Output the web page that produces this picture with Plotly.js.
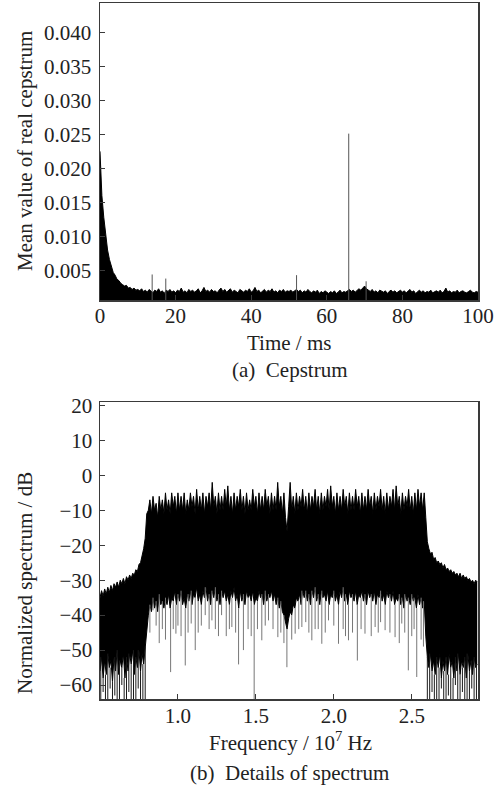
<!DOCTYPE html>
<html>
<head>
<meta charset="utf-8">
<script src="https://cdn.plot.ly/plotly-3.0.1.min.js"></script>
<style>html,body{margin:0;padding:0;background:#fff;}#chart{width:499px;height:790px;}</style>
</head>
<body>
<div id="chart"></div>
<script>
// ---------- (a) Cepstrum: sampled every 0.5 ms, upper envelope of the dense trace ----------
const cepStep = 0.5; // ms between samples
const cepV = [
  0.0225,0.0160,0.0128,0.0100,0.0080,0.0066,0.0056,0.0047,0.0043,0.0037,0.0035,0.0031,0.0029,0.0027,0.0028,0.0024,0.0025,0.0022,0.0024,0.0021,0.0022,
  0.0020,0.0023,0.0019,0.0021,0.0018,0.0022,0.0020,0.0017,0.0021,0.0019,0.0023,0.0018,0.0020,0.0016,0.0021,0.0019,0.0022,0.0018,0.0020,0.0017,
  0.0021,0.0019,0.0024,0.0018,0.0020,0.0017,0.0022,0.0019,0.0021,0.0018,0.0020,0.0023,0.0017,0.0020,0.0025,0.0019,0.0021,0.0018,0.0022,0.0019,
  0.0020,0.0017,0.0021,0.0024,0.0019,0.0022,0.0018,0.0020,0.0023,0.0018,0.0021,0.0019,0.0017,0.0022,0.0020,0.0018,0.0021,0.0019,0.0023,0.0018,
  0.0020,0.0025,0.0019,0.0021,0.0017,0.0020,0.0022,0.0018,0.0021,0.0019,0.0023,0.0018,0.0020,0.0017,0.0021,0.0019,0.0022,0.0018,0.0020,0.0019,
  0.0021,0.0018,0.0020,0.0022,0.0019,0.0021,0.0017,0.0020,0.0018,0.0022,0.0019,0.0017,0.0020,0.0018,0.0021,0.0016,0.0019,0.0017,0.0020,0.0018,
  0.0016,0.0019,0.0017,0.0020,0.0016,0.0018,0.0021,0.0017,0.0019,0.0018,0.0020,0.0022,0.0019,0.0021,0.0018,0.0020,0.0023,0.0021,0.0024,0.0027,
  0.0023,0.0021,0.0019,0.0022,0.0018,0.0020,0.0017,0.0021,0.0019,0.0018,0.0020,0.0016,0.0019,0.0021,0.0018,0.0020,0.0017,0.0019,0.0021,0.0018,
  0.0020,0.0017,0.0019,0.0022,0.0018,0.0020,0.0016,0.0019,0.0021,0.0018,0.0020,0.0017,0.0019,0.0018,0.0021,0.0017,0.0019,0.0020,0.0018,0.0021,
  0.0017,0.0019,0.0024,0.0018,0.0020,0.0017,0.0019,0.0018,0.0021,0.0017,0.0019,0.0020,0.0018,0.0017,0.0019,0.0021,0.0018,0.0017,0.0019,0.0018
];
// isolated cepstral peaks (ms, value)
const peakT = [13.8, 17.4, 52.0, 65.8, 70.4];
const peakV = [0.0044, 0.0038, 0.0043, 0.0251, 0.0034];

// ---------- (b) Spectrum details: 0.01 x 10^7 Hz grid starting at 0.50 ----------
const specStart = 0.50, specStep = 0.01;
const specUpper = [
  // 0.50 - 0.79
  -35,-33,-34.5,-32.5,-34,-32,-33.5,-31.5,-33,-31,-32,-30.5,-32,-30,-31,-29.5,-31,-29,-30,-28.5,
  -29.5,-28,-28.5,-27,-27.5,-25.5,-25,-23,-21,-18,
  // 0.80
  -11,
  // 0.81 - 2.58
  -10,-7,-11,-6,-10,-8,-12,-6,-10,-7,
  -11,-5,-10,-7,-11,-5,-9,-6,-11,-5,
  -10,-6,-10,-5,-11,-7,-10,-5,-9,-6,
  -11,-4,-10,-6,-10,-5,-11,-6,-9,-5,
  -10,-2,-9,-6,-11,-5,-10,-6,-10,-4,
  -9,-3,-10,-6,-11,-5,-10,-6,-9,-4,
  -10,-6,-11,-5,-10,-7,-10,-4,-9,-6,
  -11,-5,-10,-6,-10,-4,-9,-6,-11,-5,
  -10,-6,-10,-2,-9,-6,-11,-5,-12,-16,
  -9,-2,-10,-6,-11,-5,-10,-6,-9,-4,
  -10,-6,-11,-5,-10,-6,-9,-4,-10,-6,
  -11,-5,-10,-6,-9,-4,-10,-3,-9,-6,
  -11,-5,-10,-6,-10,-4,-9,-6,-11,-5,
  -10,-6,-10,-4,-9,-6,-11,-5,-10,-6,
  -10,-4,-9,-6,-11,-5,-10,-6,-9,-4,
  -10,-6,-11,-5,-10,-6,-9,-4,-10,-3,
  -9,-6,-11,-5,-10,-6,-9,-4,-10,-6,
  -11,-5,-10,-4,-9,-5,-10,-5,
  // 2.59 - 2.92
  -12,-19,-21,-22.5,-22,-24,-23.5,-25,-24.5,-25.5,-25,-26.5,-25.5,-27,-26.5,-27.5,-27,-28,-27.5,-28.5,
  -28,-29,-28,-29.5,-28.5,-29.5,-29,-30,-29.5,-30.5,-30,-31,-30,-30.5
];
const specLower = [
  // 0.50 - 0.79
  -56,-52,-58,-53,-57,-51,-55,-53,-59,-52,-56,-50,-57,-53,-55,-51,-58,-52,-56,-51,
  -54,-50,-57,-52,-55,-50,-56,-51,-54,-49,
  // 0.80
  -44,
  // 0.81 - 2.58
  -40,-37,-39,-35,-38,-36,-39,-34,-37,-36,
  -38,-35,-37,-34,-38,-35,-36,-33,-37,-34,
  -36,-33,-37,-35,-38,-34,-36,-33,-37,-34,
  -35,-32,-36,-34,-37,-33,-35,-32,-36,-34,
  -37,-33,-35,-32,-36,-34,-37,-33,-35,-33,
  -36,-34,-37,-33,-35,-32,-36,-34,-38,-33,
  -36,-34,-37,-33,-35,-34,-36,-33,-37,-35,
  -36,-33,-35,-34,-37,-33,-36,-34,-35,-33,
  -36,-34,-37,-35,-38,-36,-39,-40,-42,-44,
  -41,-39,-40,-37,-38,-35,-36,-34,-37,-33,
  -35,-33,-36,-34,-37,-33,-35,-32,-36,-34,
  -37,-33,-35,-34,-36,-33,-37,-34,-35,-33,
  -36,-34,-37,-33,-35,-32,-36,-34,-37,-33,
  -35,-34,-36,-33,-37,-34,-35,-33,-36,-34,
  -37,-33,-35,-34,-36,-33,-37,-34,-35,-33,
  -36,-34,-37,-33,-35,-34,-36,-33,-37,-35,
  -36,-34,-37,-35,-38,-34,-36,-35,-37,-34,
  -36,-35,-38,-34,-37,-35,-38,-36,
  // 2.59 - 2.92
  -46,-52,-55,-51,-56,-53,-57,-52,-55,-51,-58,-53,-56,-52,-57,-51,-55,-53,-58,-52,
  -56,-51,-57,-53,-55,-52,-58,-51,-56,-53,-57,-52,-55,-54
];
// deep notches inside the band (grey)
const dipF  = [0.82,0.84,0.86,0.88,0.90,0.92,0.953,0.97,0.987,1.00,1.02,1.047,1.065,1.085,1.111,1.13,1.15,1.175,1.20,1.218,1.24,1.26,1.28,1.31,1.33,1.346,1.37,1.389,1.42,1.45,1.47,1.489,1.51,1.538,1.56,1.581,1.61,1.641,1.66,1.68,1.699,1.73,1.752,1.775,1.795,1.82,1.84,1.859,1.88,1.90,1.923,1.945,1.966,2.00,2.03,2.06,2.075,2.094,2.12,2.151,2.175,2.20,2.24,2.265,2.285,2.30,2.329,2.36,2.393,2.42,2.436,2.455,2.478,2.50,2.515,2.532,2.56,2.575];
const dipDb = [-45,-38.6,-43,-48,-44,-47,-56.3,-44,-45.3,-43,-46,-54.4,-45,-42.4,-50,-45,-43,-40,-44,-41.5,-44,-46,-40,-46,-44,-43.4,-45,-54.1,-50,-44,-46,-64.5,-44,-47.2,-43,-41.5,-44,-46.3,-45,-48,-54.9,-47,-45.3,-44,-43.4,-42,-45,-47.2,-44,-44,-48.2,-45,-41.5,-43,-48.2,-44,-46,-47.2,-45,-53,-44,-45.3,-46,-43.4,-45,-42,-44.3,-45,-46.3,-48,-42.4,-45,-55.8,-46,-44,-57.7,-47,-49];
// notches outside the band (dark, reaching the bottom)
const edgeF  = [0.505,0.52,0.535,0.55,0.565,0.58,0.595,0.61,0.625,0.64,0.655,0.67,0.685,0.70,0.715,0.73,0.745,0.76,0.775,0.79,
                2.60,2.615,2.63,2.645,2.66,2.675,2.69,2.705,2.72,2.735,2.75,2.765,2.78,2.795,2.81,2.825,2.84,2.855,2.87,2.885,2.90,2.915];
const edgeDb = [-64.5,-62,-64.5,-64.5,-61,-64.5,-63,-64.5,-64.5,-60,-64.5,-64.5,-62,-64.5,-64.5,-64.5,-61,-64.5,-64.5,-64.5,
                -64.5,-64.5,-62,-64.5,-64.5,-64.5,-61,-64.5,-64.5,-63,-64.5,-64.5,-60,-64.5,-64.5,-62,-64.5,-64.5,-64.5,-61,-64.5,-64.5];

// ---------- build traces ----------
const cepT = cepV.map((_, i) => i * cepStep);
const specF = specUpper.map((_, i) => +(specStart + i * specStep).toFixed(3));
function lowerAt(f){ const i = Math.max(0, Math.min(specLower.length-1, Math.round((f - specStart)/specStep))); return specLower[i]; }
function segs(fs, ds, fromFn){ const x=[], y=[]; fs.forEach((f,i)=>{ x.push(f,f,null); y.push(fromFn(f,i), ds[i], null); }); return {x,y}; }

const pk = segs(peakT, peakV, () => 0);
const dp = segs(dipF, dipDb, f => lowerAt(f));
const ed = segs(edgeF, edgeDb, f => lowerAt(f));

const traces = [
  {x: cepT, y: cepV, type:'scatter', mode:'lines', fill:'tozeroy', fillcolor:'#000', line:{color:'#000', width:1}, xaxis:'x', yaxis:'y', hoverinfo:'skip'},
  {x: pk.x, y: pk.y, type:'scatter', mode:'lines', line:{color:'#555', width:1}, xaxis:'x', yaxis:'y', hoverinfo:'skip'},
  {x: specF, y: specLower, type:'scatter', mode:'lines', line:{color:'#000', width:1}, xaxis:'x2', yaxis:'y2', hoverinfo:'skip'},
  {x: specF, y: specUpper, type:'scatter', mode:'lines', fill:'tonexty', fillcolor:'#000', line:{color:'#000', width:1}, xaxis:'x2', yaxis:'y2', hoverinfo:'skip'},
  {x: dp.x, y: dp.y, type:'scatter', mode:'lines', line:{color:'#777', width:1}, xaxis:'x2', yaxis:'y2', hoverinfo:'skip'},
  {x: ed.x, y: ed.y, type:'scatter', mode:'lines', line:{color:'#1a1a1a', width:1}, xaxis:'x2', yaxis:'y2', hoverinfo:'skip'}
];

const font = {family:'Liberation Serif, serif', size:21, color:'#222'};
const axBase = {showline:true, mirror:true, linecolor:'#3a3a3a', linewidth:1.5, ticks:'inside', ticklen:5, tickcolor:'#3a3a3a', showgrid:false, zeroline:false, tickfont:font};
const H = 696, B = 699;
const py = Y => (B - Y) / H;

const layout = {
  width:499, height:790,
  margin:{l:100, r:21, t:3, b:91},
  paper_bgcolor:'#fff', plot_bgcolor:'#fff',
  showlegend:false, font:font,
  xaxis: Object.assign({}, axBase, {domain:[0,1], anchor:'y', range:[0,100], tickvals:[0,20,40,60,80,100], ticklabelstandoff:-4}),
  yaxis: Object.assign({}, axBase, {domain:[py(300),1], anchor:'x', range:[0.00065,0.0443], tickvals:[0.005,0.010,0.015,0.020,0.025,0.030,0.035,0.040], tickformat:'.3f', ticklabelstandoff:3}),
  xaxis2: Object.assign({}, axBase, {domain:[0,1], anchor:'y2', range:[0.5,2.925], tickvals:[1.0,1.5,2.0,2.5], tickformat:'.1f', ticklabelstandoff:-3}),
  yaxis2: Object.assign({}, axBase, {domain:[0,py(402)], anchor:'x2', range:[-64,21], tickvals:[-60,-50,-40,-30,-20,-10,0,10,20], ticklabelstandoff:2}),
  annotations:[
    {text:'Time / ms', xref:'paper', yref:'paper', x:0.5, y:py(343), xanchor:'center', yanchor:'middle', showarrow:false, font:font},
    {text:'(a)  Cepstrum', xref:'paper', yref:'paper', x:0.5, y:py(370), xanchor:'center', yanchor:'middle', showarrow:false, font:font},
    {text:'Mean value of real cepstrum', xref:'paper', yref:'paper', x:(25-100)/378, y:py(151), xanchor:'center', yanchor:'middle', textangle:-90, showarrow:false, font:font},
    {text:'Frequency / 10<sup>7</sup> Hz', xref:'paper', yref:'paper', x:0.503, y:py(742), xanchor:'center', yanchor:'middle', showarrow:false, font:font},
    {text:'(b)  Details of spectrum', xref:'paper', yref:'paper', x:0.5, y:py(773), xanchor:'center', yanchor:'middle', showarrow:false, font:font},
    {text:'Normalized spectrum / dB', xref:'paper', yref:'paper', x:(25-100)/378, y:py(583), xanchor:'center', yanchor:'middle', textangle:-90, showarrow:false, font:font}
  ]
};

Plotly.newPlot('chart', traces, layout, {staticPlot:true, displayModeBar:false});
</script>
</body>
</html>
